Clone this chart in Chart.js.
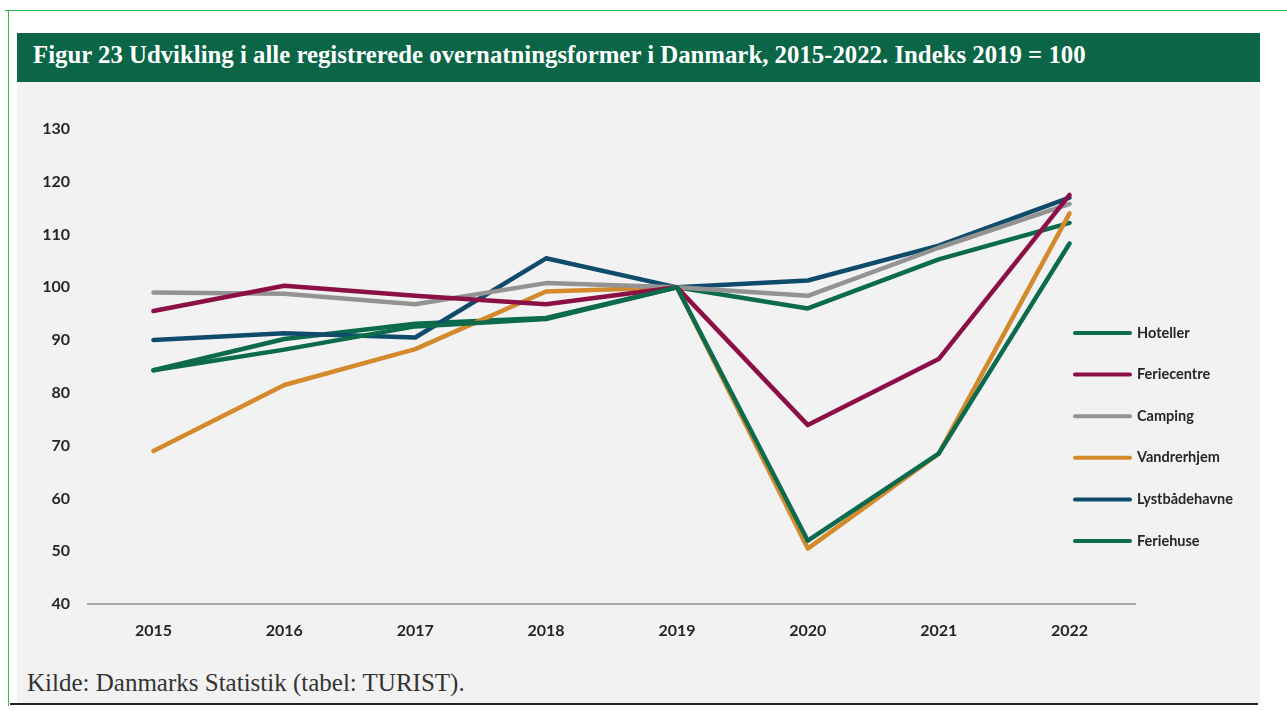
<!DOCTYPE html>
<html>
<head>
<meta charset="utf-8">
<script src="https://cdn.jsdelivr.net/npm/chart.js@4/dist/chart.umd.min.js"></script>
<style>
  html, body { margin: 0; padding: 0; background: #fff; }
  .page { position: relative; width: 1287px; height: 711px; overflow: hidden; }
  .greenTop { position: absolute; left: 5px; top: 10px; width: 1282px; height: 1px; background: #2dbf4f; }
  .greenLeft { position: absolute; left: 8px; top: 10px; width: 1px; height: 696px; background: #2dbf4f; }
  .titleBar { position: absolute; left: 17px; top: 33px; width: 1243px; height: 49px; background: #0a6646; }
  .titleBar span { position: absolute; left: 16px; top: 8px; color: #fff; font: bold 24.8px "Liberation Serif", "Times New Roman", serif; white-space: nowrap; }
  .panel { position: absolute; left: 17px; top: 82px; width: 1243px; height: 621px; background: #f2f2f2; }
  .bottomLine { position: absolute; left: 10px; top: 703px; width: 1248px; height: 2px; background: #222; }
  .source { position: absolute; left: 27px; top: 669px; color: #333; font: 25px "Liberation Serif", "Times New Roman", serif; white-space: nowrap; }
  .chartBox { position: absolute; left: 0; top: 0; width: 1287px; height: 711px; }
</style>
</head>
<body>
<div class="page">
  <div class="greenTop"></div>
  <div class="greenLeft"></div>
  <div class="titleBar"><span>Figur 23 Udvikling i alle registrerede overnatningsformer i Danmark, 2015-2022. Indeks 2019 = 100</span></div>
  <div class="panel"></div>
  <div class="source">Kilde: Danmarks Statistik (tabel: TURIST).</div>
  <div class="bottomLine"></div>
  <div class="chartBox"><canvas id="chart"></canvas></div>
</div>
<script>
// index 2019 = 100
const years = ["2015", "2016", "2017", "2018", "2019", "2020", "2021", "2022"]
const hoteller = [84.3, 88.2, 92.6, 94.0, 100, 52.0, 68.5, 108.3]
const feriecentre = [95.5, 100.3, 98.4, 96.8, 100, 73.9, 86.4, 117.5]
const camping = [99.0, 98.8, 96.8, 100.8, 100, 98.4, 107.5, 115.8]
const vandrerhjem = [69.0, 81.5, 88.3, 99.2, 100, 50.5, 68.5, 114.0]
const lystbaadehavne = [90.0, 91.3, 90.5, 105.5, 100, 101.3, 107.9, 117.0]
const feriehuse = [84.3, 90.2, 93.1, 94.2, 100, 96.0, 105.3, 112.2]

const yMin = 40
const yMax = 130
const yStep = 10

const series = [
  { label: "Hoteller", data: hoteller, color: "#0c6b4c" },
  { label: "Feriecentre", data: feriecentre, color: "#8c1046" },
  { label: "Camping", data: camping, color: "#939393" },
  { label: "Vandrerhjem", data: vandrerhjem, color: "#d3892c" },
  { label: "Lystbådehavne", data: lystbaadehavne, color: "#0f4c6c" },
  { label: "Feriehuse", data: feriehuse, color: "#0c6b4c" }
]

const tickFont = { family: "Lato, 'Open Sans', sans-serif", size: 16, weight: "bold" }

// legend drawn to the right of the plot, one line sample per series
const sideLegend = {
  id: "sideLegend",
  afterDraw(chart) {
    const ctx = chart.ctx
    const area = chart.chartArea
    const x0 = area.right - 60
    const x1 = area.right - 5
    ctx.save()
    ctx.font = "bold 14.5px Lato, 'Open Sans', sans-serif"
    ctx.textBaseline = "middle"
    ctx.textAlign = "left"
    chart.data.datasets.forEach((ds, i) => {
      const y = 333 + i * 41.6
      ctx.strokeStyle = ds.borderColor
      ctx.lineWidth = 4
      ctx.lineCap = "round"
      ctx.beginPath()
      ctx.moveTo(x0, y)
      ctx.lineTo(x1, y)
      ctx.stroke()
      ctx.fillStyle = "#262626"
      ctx.fillText(ds.label, x1 + 7, y)
    })
    ctx.restore()
  }
}

new Chart(document.getElementById("chart").getContext("2d"), {
  type: "line",
  data: {
    labels: years,
    datasets: series.map(s => ({
      label: s.label,
      data: s.data,
      borderColor: s.color,
      backgroundColor: s.color,
      borderWidth: 4.5,
      pointRadius: 0,
      tension: 0,
      borderJoinStyle: "round",
      borderCapStyle: "round"
    }))
  },
  options: {
    responsive: true,
    maintainAspectRatio: false,
    animation: false,
    layout: {
      padding: { left: 0, right: 152, top: 129, bottom: 0 }
    },
    plugins: {
      legend: { display: false },
      tooltip: { enabled: false }
    },
    scales: {
      x: {
        offset: true,
        grid: { display: false },
        border: { display: true, color: "#a9a9a9", width: 2 },
        ticks: { color: "#262626", font: tickFont, padding: 9, maxRotation: 0 },
        afterFit(scale) { scale.height = 107 }
      },
      y: {
        min: yMin,
        max: yMax,
        grid: { display: false, drawTicks: false },
        border: { display: false },
        ticks: { stepSize: yStep, color: "#262626", font: tickFont, padding: 18 },
        afterFit(scale) { scale.width = 88 }
      }
    }
  },
  plugins: [sideLegend]
})
</script>
</body>
</html>
